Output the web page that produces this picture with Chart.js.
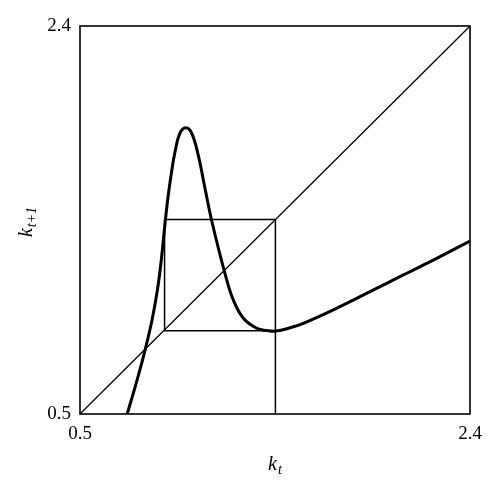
<!DOCTYPE html>
<html>
<head>
<meta charset="utf-8">
<script src="https://cdn.jsdelivr.net/npm/chart.js@4/dist/chart.umd.min.js"></script>
<style>
html,body{margin:0;padding:0;background:#fff;}
#wrap{width:500px;height:494px;}
</style>
</head>
<body>
<div id="wrap"><canvas id="c" width="500" height="494"></canvas></div>
<script>
// Map curve k_{t+1} = f(k_t)
const curveX = [0.730, 0.778, 0.817, 0.851, 0.877, 0.896, 0.911, 0.927, 0.944, 0.963, 0.987, 1.016, 1.044, 1.076, 1.109, 1.142, 1.206, 1.247, 1.296, 1.361, 1.410, 1.455, 1.520, 1.588, 1.751, 1.913, 2.075, 2.238, 2.400];
const curveY = [0.500, 0.666, 0.813, 0.960, 1.107, 1.254, 1.401, 1.548, 1.672, 1.784, 1.875, 1.902, 1.875, 1.768, 1.605, 1.445, 1.189, 1.058, 0.969, 0.920, 0.909, 0.906, 0.921, 0.944, 1.018, 1.099, 1.181, 1.262, 1.347];
// 45-degree line
const diagX = [0.5, 2.4];
const diagY = [0.5, 2.4];
// 2-cycle cobweb
const cobwebX = [1.452, 1.452, 0.912, 0.912, 1.452];
const cobwebY = [0.500, 1.452, 1.452, 0.908, 0.908];
// axes
const axisMin = 0.5, axisMax = 2.4;
const tickValues = [0.5, 2.4];
const xTitle = ["k", "t"];
const yTitle = ["k", "t+1"];

const pts = (xs, ys) => xs.map((x, i) => ({x: x, y: ys[i]}));
const serif = "'Liberation Serif', 'DejaVu Serif', serif";

const framePlugin = {
  id: 'frame',
  afterDatasetsDraw(chart) {
    const {ctx, chartArea: a} = chart;
    ctx.save();
    ctx.strokeStyle = '#000';
    ctx.lineWidth = 1.6;
    ctx.strokeRect(a.left, a.top, a.right - a.left, a.bottom - a.top);
    ctx.restore();
  },
  afterDraw(chart) {
    const {ctx, chartArea: a} = chart;
    ctx.save();
    ctx.fillStyle = '#000';
    ctx.textBaseline = 'alphabetic';
    function drawSub(parts, x, y) {
      ctx.font = "italic 20px " + serif;
      const w1 = ctx.measureText(parts[0]).width;
      ctx.font = "italic 14px " + serif;
      const w2 = ctx.measureText(parts[1]).width;
      const total = w1 + w2 + 1;
      let sx = x - total / 2;
      ctx.font = "italic 20px " + serif;
      ctx.textAlign = 'left';
      ctx.fillText(parts[0], sx, y);
      ctx.font = "italic 14px " + serif;
      ctx.fillText(parts[1], sx + w1 + 1, y + 4);
    }
    const cx = (a.left + a.right) / 2;
    drawSub(xTitle, cx, 470);
    ctx.save();
    ctx.translate(32, (a.top + a.bottom) / 2 + 2);
    ctx.rotate(-Math.PI / 2);
    drawSub(yTitle, 0, 0);
    ctx.restore();
    ctx.restore();
  }
};

const fixedTicks = (scale) => { scale.ticks = tickValues.map(v => ({value: v})); };

new Chart(document.getElementById('c'), {
  type: 'scatter',
  data: {
    datasets: [
      {data: pts(diagX, diagY), showLine: true, borderColor: '#000', borderWidth: 1.3, pointRadius: 0, tension: 0},
      {data: pts(cobwebX, cobwebY), showLine: true, borderColor: '#000', borderWidth: 1.5, pointRadius: 0, tension: 0},
      {data: pts(curveX, curveY), showLine: true, borderColor: '#000', borderWidth: 3, pointRadius: 0, tension: 0.4}
    ]
  },
  options: {
    responsive: false,
    animation: false,
    events: [],
    layout: {padding: {left: 0, top: 26, right: 30, bottom: 0}},
    plugins: {legend: {display: false}, tooltip: {enabled: false}},
    scales: {
      x: {
        type: 'linear', min: axisMin, max: axisMax,
        afterBuildTicks: fixedTicks,
        afterFit: (s) => { s.height = 80; },
        grid: {display: false, drawTicks: false},
        border: {display: false},
        ticks: {padding: 9, color: '#000', font: {family: serif, size: 19}, callback: v => v.toFixed(1), maxRotation: 0, autoSkip: false}
      },
      y: {
        type: 'linear', min: axisMin, max: axisMax,
        afterBuildTicks: fixedTicks,
        afterFit: (s) => { s.width = 80; },
        grid: {display: false, drawTicks: false},
        border: {display: false},
        ticks: {padding: 9, color: '#000', font: {family: serif, size: 19}, callback: v => v.toFixed(1), autoSkip: false}
      }
    }
  },
  plugins: [framePlugin]
});
</script>
</body>
</html>
